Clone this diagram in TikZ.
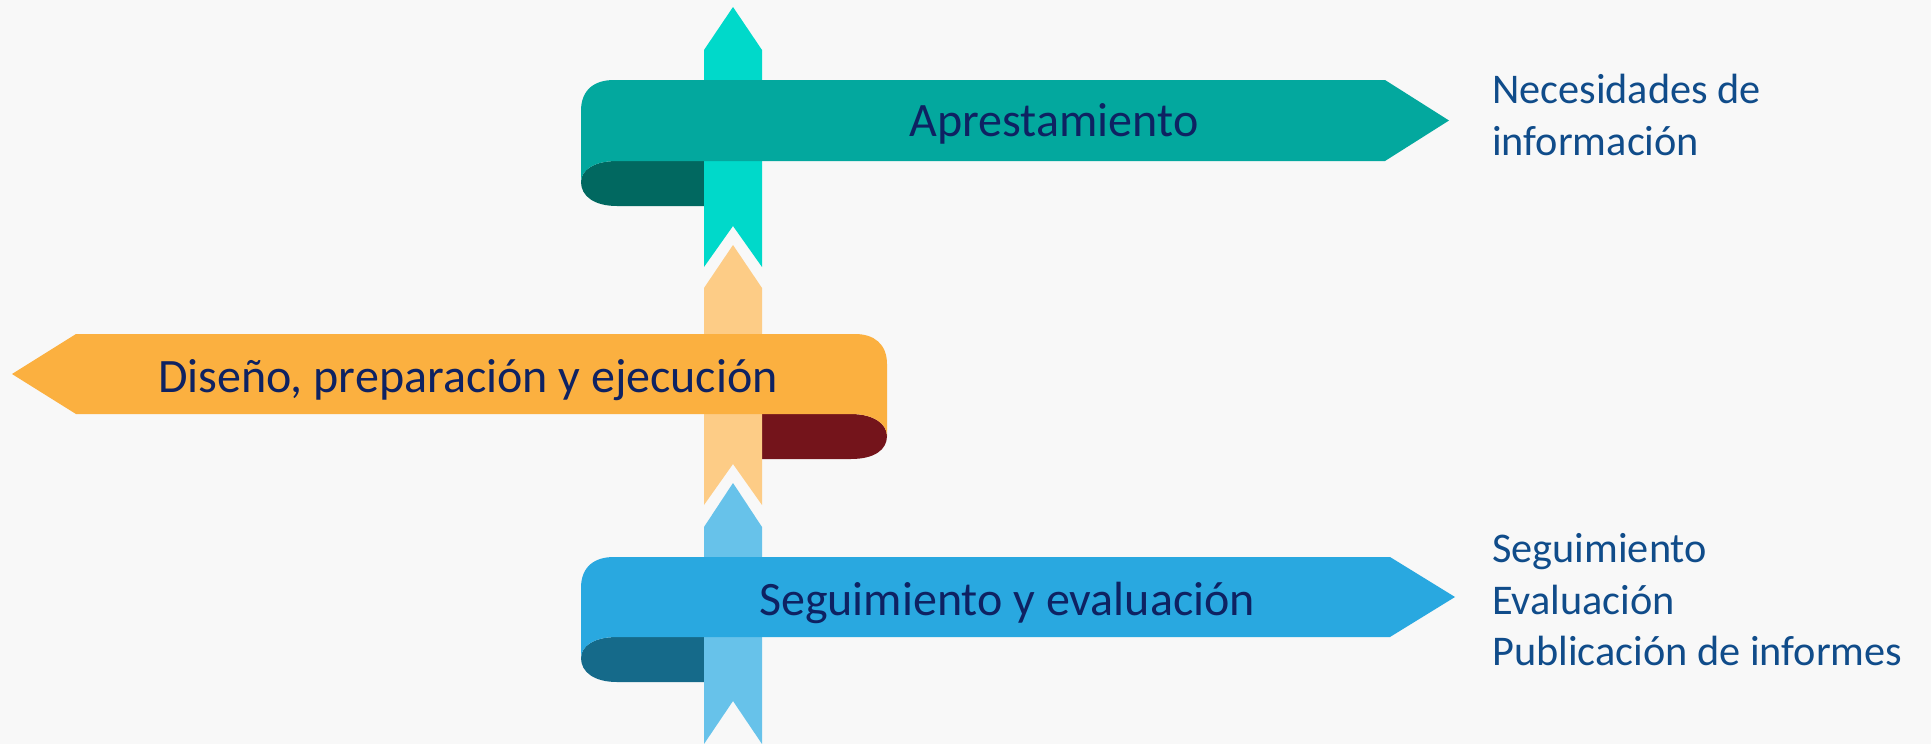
\documentclass[tikz,border=0pt]{standalone}
\usepackage{fontspec}
\setmainfont{Carlito}
\usepackage{tikz}
\usetikzlibrary{positioning}

\definecolor{bgray}{RGB}{248,248,248}
\definecolor{tealbody}{RGB}{3,168,158}
\definecolor{tealfold}{RGB}{1,104,96}
\definecolor{tealstrip}{RGB}{0,217,202}
\definecolor{orabody}{RGB}{251,176,64}
\definecolor{orafold}{RGB}{116,20,27}
\definecolor{orastrip}{RGB}{253,204,134}
\definecolor{bluebody}{RGB}{41,168,224}
\definecolor{bluefold}{RGB}{21,106,138}
\definecolor{bluestrip}{RGB}{103,194,234}
\definecolor{ribtext}{RGB}{14,34,98}
\definecolor{sidetext}{RGB}{16,76,138}

\begin{document}
\begin{tikzpicture}[x=1pt, y=-1pt,
ribbontext/.style={inner sep=0pt, text=ribtext, font=\fontsize{48}{57}\selectfont},
sidelist/.style={inner sep=0pt, text=sidetext, align=left, anchor=west,
  font=\fontsize{42.3}{51.5}\selectfont}]

%background
\fill[bgray] (0,0) rectangle (1931,744);
\useasboundingbox (0,0) rectangle (1931,744);

%Aprestamiento ribbon
\fill[tealfold] (704,161) -- (617,161) .. controls (594,161) and (581,170) .. (581,182)
  .. controls (581,196) and (594,206) .. (617,206) -- (704,206) -- cycle;
\fill[tealstrip] (704,50) -- (733,7) -- (762,50) -- (762,267) -- (733,226) -- (704,267) -- cycle;
\fill[tealbody] (581,182) -- (581,111) .. controls (581,90) and (594,80) .. (614,80)
  -- (1385,80) -- (1449,120.5) -- (1385,161) -- (617,161)
  .. controls (594,161) and (581,170) .. (581,182) -- cycle;
\node[ribbontext] (apr) at (1054,124) {Aprestamiento};

%Diseno ribbon
\fill[orafold] (762,414) -- (851,414) .. controls (874,414) and (887,424) .. (887,436)
  .. controls (887,450) and (874,459) .. (851,459) -- (762,459) -- cycle;
\fill[orastrip] (704,288) -- (733,245) -- (762,288) -- (762,505) -- (733,464) -- (704,505) -- cycle;
\fill[orabody] (887,436) -- (887,364) .. controls (887,344) and (874,334) .. (855,334)
  -- (76,334) -- (12,374) -- (76,414) -- (851,414)
  .. controls (874,414) and (887,424) .. (887,436) -- cycle;
\node[ribbontext] (dis) at (468,380) {Diseño, preparación y ejecución};

%Seguimiento ribbon
\fill[bluefold] (704,637) -- (617,637) .. controls (594,637) and (581,646) .. (581,658)
  .. controls (581,672) and (594,682) .. (617,682) -- (704,682) -- cycle;
\fill[bluestrip] (704,527) -- (733,483) -- (762,527) -- (762,744) -- (733,701) -- (704,744) -- cycle;
\fill[bluebody] (581,658) -- (581,588) .. controls (581,567) and (594,557) .. (614,557)
  -- (1390,557) -- (1455,597) -- (1390,637) -- (617,637)
  .. controls (594,637) and (581,646) .. (581,658) -- cycle;
\node[ribbontext] (seg) at (1007,603) {Seguimiento y evaluación};

%side texts
\node[sidelist] (necinfo) at (1492,115) {Necesidades de\\información};
\node[sidelist] (seginfo) at (1492,600) {Seguimiento\\Evaluación\\Publicación de informes};

\end{tikzpicture}
\end{document}
